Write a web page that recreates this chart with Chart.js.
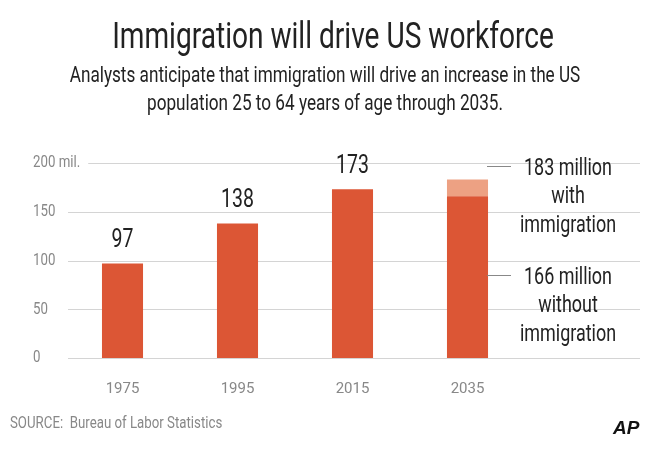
<!DOCTYPE html>
<html><head><meta charset="utf-8">
<script src="https://cdn.jsdelivr.net/npm/chart.js@4"></script>
<style>html,body{margin:0;padding:0;background:#fff}#wrap{width:650px;height:456px}</style>
</head><body><div id="wrap"><canvas id="c" width="650" height="456"></canvas></div>
<script>
const years = ["1975", "1995", "2015", "2035"];
const baseValues = [97, 138, 173, 166];
const extraValues = [0, 0, 0, 17];
const valueLabels = ["97", "138", "173", ""];
const yTicks = [0, 50, 100, 150, 200];

const FONT = "'Liberation Sans Narrow', 'Roboto', sans-serif";
const SQ = 0.78; // squeeze Roboto to look condensed

function narrowText(ctx, t, x, y) {
  ctx.save();
  ctx.translate(x, y);
  ctx.scale(SQ, 1);
  ctx.fillText(t, 0, 0);
  ctx.restore();
}

const textPlugin = {
  id: "texts",
  beforeDatasetsDraw(chart) {
    const { ctx, scales } = chart;
    ctx.save();
    ctx.font = "17px " + FONT;
    ctx.fillStyle = "#888";
    ctx.textBaseline = "middle";
    ctx.textAlign = "left";
    yTicks.forEach(v => {
      const y = scales.y.getPixelForValue(v);
      const label = v === 200 ? "200 mil." : String(v);
      narrowText(ctx, label, 33, y);
      const w = ctx.measureText(label).width * SQ;
      ctx.strokeStyle = "#d4d4d4";
      ctx.lineWidth = 1;
      ctx.beginPath();
      ctx.moveTo(Math.max(68, 33 + w + 8), Math.round(y) + 0.5);
      ctx.lineTo(640, Math.round(y) + 0.5);
      ctx.stroke();
    });
    ctx.restore();
  },
  afterDraw(chart) {
    const { ctx, scales } = chart;
    ctx.save();
    ctx.fillStyle = "#222";
    ctx.textAlign = "center";
    ctx.textBaseline = "alphabetic";
    ctx.font = "36px " + FONT;
    narrowText(ctx, "Immigration will drive US workforce", 333, 48);
    ctx.font = "22px " + FONT;
    narrowText(ctx, "Analysts anticipate that immigration will drive an increase in the US", 325, 82);
    narrowText(ctx, "population 25 to 64 years of age through 2035.", 325, 110);
    ctx.font = "25px " + FONT;
    valueLabels.forEach((t, i) => {
      if (!t) return;
      const x = scales.x.getPixelForValue(i);
      const y = scales.y.getPixelForValue(baseValues[i]);
      narrowText(ctx, t, x, y - 16);
    });
    ctx.font = "23px " + FONT;
    const rx = 568;
    narrowText(ctx, "183 million", rx, 175);
    narrowText(ctx, "with", rx, 203);
    narrowText(ctx, "immigration", rx, 232);
    narrowText(ctx, "166 million", rx, 284);
    narrowText(ctx, "without", rx, 312);
    narrowText(ctx, "immigration", rx, 341);
    ctx.strokeStyle = "#888";
    ctx.beginPath();
    ctx.moveTo(487, 166.5); ctx.lineTo(511, 166.5);
    ctx.moveTo(487, 275.5); ctx.lineTo(511, 275.5);
    ctx.stroke();
    ctx.textAlign = "left";
    ctx.fillStyle = "#888";
    ctx.font = "17px " + FONT;
    narrowText(ctx, "SOURCE:  Bureau of Labor Statistics", 10, 428);
    ctx.fillStyle = "#111";
    ctx.font = "bold italic 19px 'Liberation Sans', sans-serif";
    ctx.fillText("AP", 613, 434);
    ctx.restore();
  }
};

new Chart(document.getElementById("c"), {
  type: "bar",
  data: {
    labels: years,
    datasets: [
      { data: baseValues, backgroundColor: "#dc5635", barPercentage: 0.85, categoryPercentage: 0.42 },
      { data: extraValues, backgroundColor: "#eda183", barPercentage: 0.85, categoryPercentage: 0.42 }
    ]
  },
  options: {
    responsive: false,
    animation: false,
    layout: { padding: { top: 163, left: 65, right: 125, bottom: 44 } },
    plugins: { legend: { display: false }, tooltip: { enabled: false } },
    scales: {
      x: {
        stacked: true,
        grid: { display: false },
        border: { display: false },
        ticks: { color: "#888", font: { size: 15, family: FONT }, padding: 14 }
      },
      y: {
        stacked: true, min: 0, max: 200,
        display: false
      }
    }
  },
  plugins: [textPlugin]
});
</script>
</body></html>
